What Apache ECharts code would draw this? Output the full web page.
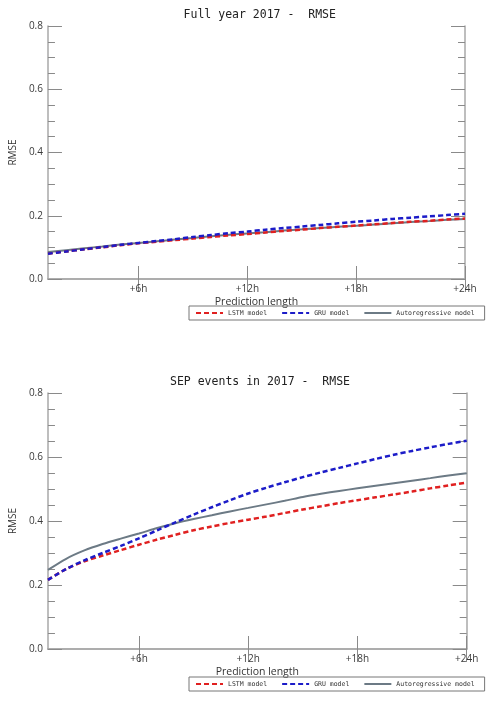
<!DOCTYPE html>
<html>
<head>
<meta charset="utf-8">
<script src="https://cdn.jsdelivr.net/npm/echarts@6/dist/echarts.min.js"></script>
<style>html,body{margin:0;padding:0;background:#fff;}#c{width:497px;height:703px;}</style>
</head>
<body>
<div id="c"></div>
<script>
const hours = [1,2,3,4,5,6,7,8,9,10,11,12,13,14,15,16,17,18,19,20,21,22,23,24];
const xTicks = [6,12,18,24];
const seriesNames = ['LSTM model','GRU model','Autoregressive model'];
const titles = ['Full year 2017 -  RMSE','SEP events in 2017 -  RMSE'];

// Full year 2017
const fullLSTM = [0.080,0.087,0.094,0.100,0.107,0.113,0.118,0.123,0.128,0.133,0.138,0.142,0.147,0.152,0.156,0.161,0.165,0.169,0.173,0.177,0.181,0.184,0.188,0.191];
const fullGRU  = [0.080,0.087,0.094,0.101,0.108,0.114,0.120,0.126,0.133,0.139,0.145,0.150,0.156,0.161,0.166,0.171,0.176,0.181,0.185,0.190,0.194,0.198,0.202,0.206];
const fullAR   = [0.085,0.091,0.097,0.103,0.109,0.114,0.119,0.125,0.130,0.135,0.140,0.144,0.148,0.153,0.157,0.161,0.165,0.168,0.172,0.176,0.180,0.183,0.187,0.190];

// SEP events in 2017
const sepLSTM = [0.216,0.250,0.274,0.292,0.309,0.326,0.342,0.357,0.371,0.383,0.394,0.404,0.414,0.425,0.436,0.446,0.456,0.465,0.474,0.483,0.492,0.502,0.511,0.520];
const sepGRU  = [0.216,0.250,0.277,0.300,0.322,0.346,0.371,0.396,0.420,0.443,0.465,0.486,0.504,0.521,0.537,0.552,0.566,0.580,0.594,0.607,0.619,0.630,0.641,0.651];
const sepAR   = [0.247,0.282,0.308,0.328,0.345,0.361,0.378,0.393,0.406,0.418,0.430,0.441,0.452,0.463,0.475,0.485,0.494,0.502,0.510,0.518,0.526,0.534,0.542,0.549];

const colors = ['#e02020','#1c1cc8','#6c7a85'];
const panels = [
  {grid:{left:44.5, top:26, width:420.5, height:253}, data:[fullLSTM, fullGRU, fullAR], legendTop:306, titleTop:4},
  {grid:{left:43.3, top:393, width:423.4, height:256}, data:[sepLSTM, sepGRU, sepAR], legendTop:677, titleTop:371}
];

const axisColor = '#a8a8a8';
const tickColor = '#8a8a8a';
const labelFont = {fontFamily:'Open Sans', fontSize:10, color:'#3a3a3a'};

const option = {
  animation:false,
  backgroundColor:'#fff',
  title:[], grid:[], xAxis:[], yAxis:[], series:[], legend:[]
};

panels.forEach((p, i) => {
  option.title.push({
    text: titles[i], left: p.grid.left + p.grid.width/2, top: p.titleTop, textAlign:'center',
    textStyle:{fontFamily:'DejaVu Sans Mono', fontSize:11.5, fontWeight:'normal', color:'#222'}
  });
  option.grid.push(Object.assign({containLabel:false}, p.grid));
  option.xAxis.push({
    type:'value', gridIndex:i, min:1, max:24, position:'bottom',
    name:'Prediction length', nameLocation:'middle', nameGap:18,
    nameTextStyle:{fontFamily:'Open Sans', fontSize:10.5, color:'#333'},
    axisLine:{show:true, lineStyle:{color:axisColor, width:1.5}},
    axisTick:{show:true, inside:true, length:13, customValues:xTicks, lineStyle:{color:tickColor, width:1}},
    axisLabel:Object.assign({show:true, margin:5, customValues:xTicks, formatter:v=>'+'+v+'h'}, labelFont),
    splitLine:{show:false}
  });
  option.xAxis.push({
    type:'value', gridIndex:i, min:1, max:24, position:'top',
    axisLine:{show:true, lineStyle:{color:axisColor, width:1.5}},
    axisTick:{show:true, inside:true, length:13, customValues:xTicks, lineStyle:{color:tickColor, width:1}},
    axisLabel:{show:false}, splitLine:{show:false}
  });
  option.yAxis.push({
    type:'value', gridIndex:i, min:0, max:0.8, interval:0.2, position:'left',
    name:'RMSE', nameLocation:'middle', nameGap:27,
    nameTextStyle:{fontFamily:'Open Sans', fontSize:10, color:'#333'},
    axisLine:{show:true, lineStyle:{color:axisColor, width:1.5}},
    axisTick:{show:true, inside:true, length:14, lineStyle:{color:tickColor, width:1}},
    minorTick:{show:true, splitNumber:4, length:7, lineStyle:{color:tickColor, width:1}},
    axisLabel:Object.assign({show:true, margin:5, formatter:v=>v.toFixed(1)}, labelFont),
    splitLine:{show:false}
  });
  option.yAxis.push({
    type:'value', gridIndex:i, min:0, max:0.8, interval:0.2, position:'right',
    axisLine:{show:true, lineStyle:{color:axisColor, width:1.5}},
    axisTick:{show:true, inside:true, length:14, lineStyle:{color:tickColor, width:1}},
    minorTick:{show:true, splitNumber:4, length:7, lineStyle:{color:tickColor, width:1}},
    axisLabel:{show:false}, splitLine:{show:false}
  });
  p.data.forEach((vals, k) => {
    option.series.push({
      name: seriesNames[k], type:'line', xAxisIndex:i*2, yAxisIndex:i*2,
      data: hours.map((h, j) => [h, vals[j]]),
      smooth:0.3, showSymbol:false, symbol:'none', z: k===2 ? 2 : 3,
      lineStyle:{color:colors[k], width: k===2 ? 2 : 2.5, type: k===2 ? 'solid' : [5,3]},
      itemStyle:{color:colors[k]}
    });
  });
  option.legend.push({
    data: seriesNames, left:189, top:p.legendTop, orient:'horizontal',
    borderColor:'#777', borderWidth:1, padding:[3,10,3,6], itemGap:14,
    itemWidth:27, itemHeight:10, selectedMode:false,
    itemStyle:{opacity:0},
    textStyle:{fontFamily:'DejaVu Sans Mono', fontSize:6.5, color:'#333'}
  });
});

const chart = echarts.init(document.getElementById('c'), null, {renderer:'canvas'});
chart.setOption(option);
</script>
</body>
</html>
